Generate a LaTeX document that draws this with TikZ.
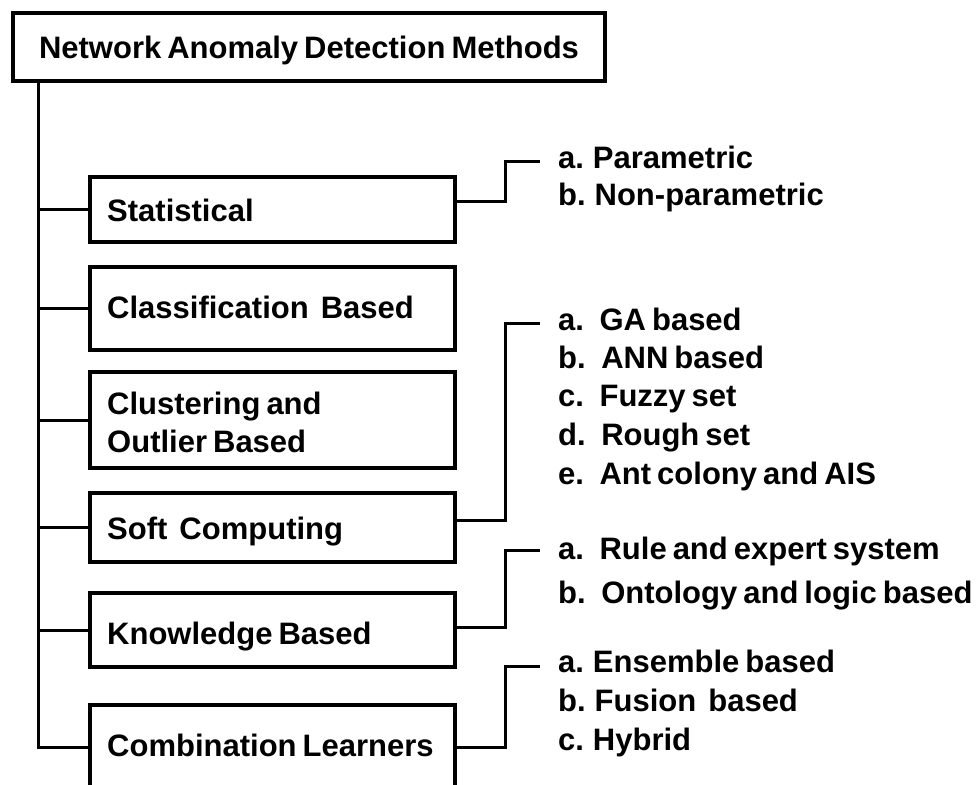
\documentclass[tikz,border=0pt]{standalone}
\usepackage{fontspec}
\setmainfont{Liberation Sans}[WordSpace=0.7]
\usetikzlibrary{calc}
\begin{document}
\begin{tikzpicture}[x=1pt,y=-1pt,
  box/.style={draw, line width=4pt, rectangle, minimum width=365pt, inner sep=0pt},
  conn/.style={line width=3pt},
  txt/.style={font=\fontsize{31}{37}\selectfont\bfseries, text height=22.3pt, text depth=0pt},
  lbl/.style={txt, inner sep=0pt, anchor=west},
]
\useasboundingbox (0,0) rectangle (979,784);
% root
\node[box, txt, minimum width=592pt, minimum height=67pt] (root) at (309,47) {Network Anomaly Detection Methods};
% boxes
\node[box, minimum height=65pt] (stat) at (272.5,209.5) {};
\node[box, minimum height=83pt] (class) at (272.5,308.5) {};
\node[box, minimum height=96pt] (clust) at (272.5,420) {};
\node[box, minimum height=69pt] (soft) at (272.5,527.5) {};
\node[box, minimum height=74pt] (know) at (272.5,630) {};
\node[box, minimum height=84pt] (comb) at (272.5,747) {};
% box labels
\node[lbl] (statT) at (107,210) {Statistical};
\node[lbl] (classT) at (107,307) {Classification\ \ Based};
\node[lbl] (clustT1) at (107,403) {Clustering and};
\node[lbl] (clustT2) at (107,441) {Outlier Based};
\node[lbl] (softT) at (107,528) {Soft\ \ Computing};
\node[lbl] (knowT) at (107,633) {Knowledge Based};
\node[lbl] (combT) at (107,745) {Combination Learners};
% items
\node[lbl] (pa) at (558,157) {a. Parametric};
\node[lbl] (pb) at (558,194) {b. Non-parametric};
\node[lbl] (sa) at (558,319) {a.\enspace GA based};
\node[lbl] (sb) at (558,357) {b.\enspace ANN based};
\node[lbl] (sc) at (558,395) {c.\enspace Fuzzy set};
\node[lbl] (sd) at (558,434) {d.\enspace Rough set};
\node[lbl] (se) at (558,473) {e.\enspace Ant colony and AIS};
\node[lbl] (ka) at (558,548) {a.\enspace Rule and expert system};
\node[lbl] (kb) at (558,592) {b.\enspace Ontology and logic based};
\node[lbl] (ca) at (558,661) {a. Ensemble based};
\node[lbl] (cb) at (558,700) {b. Fusion\ \ based};
\node[lbl] (cc) at (558,739) {c. Hybrid};
% trunk
\coordinate (tk) at (38,0);
\coordinate (rx) at (505,0);
\draw[conn] (root.south -| tk) |- (comb.west);
\foreach \b in {stat,class,clust,soft,know}
  \draw[conn] (tk |- \b.west) -- (\b.west);
% right connectors
\draw[conn] ([yshift=8pt]stat.east) -- ([yshift=8pt]stat.east -| rx) |- ([xshift=-18pt,yshift=-4pt]pa.west);
\draw[conn] ([yshift=7pt]soft.east) -- ([yshift=7pt]soft.east -| rx) |- ([xshift=-18pt,yshift=-4pt]sa.west);
\draw[conn] ([yshift=3pt]know.east) -- ([yshift=3pt]know.east -| rx) |- ([xshift=-18pt,yshift=-2pt]ka.west);
\draw[conn] (comb.east) -- (comb.east -| rx) |- ([xshift=-18pt,yshift=-5pt]ca.west);
\end{tikzpicture}
\end{document}
